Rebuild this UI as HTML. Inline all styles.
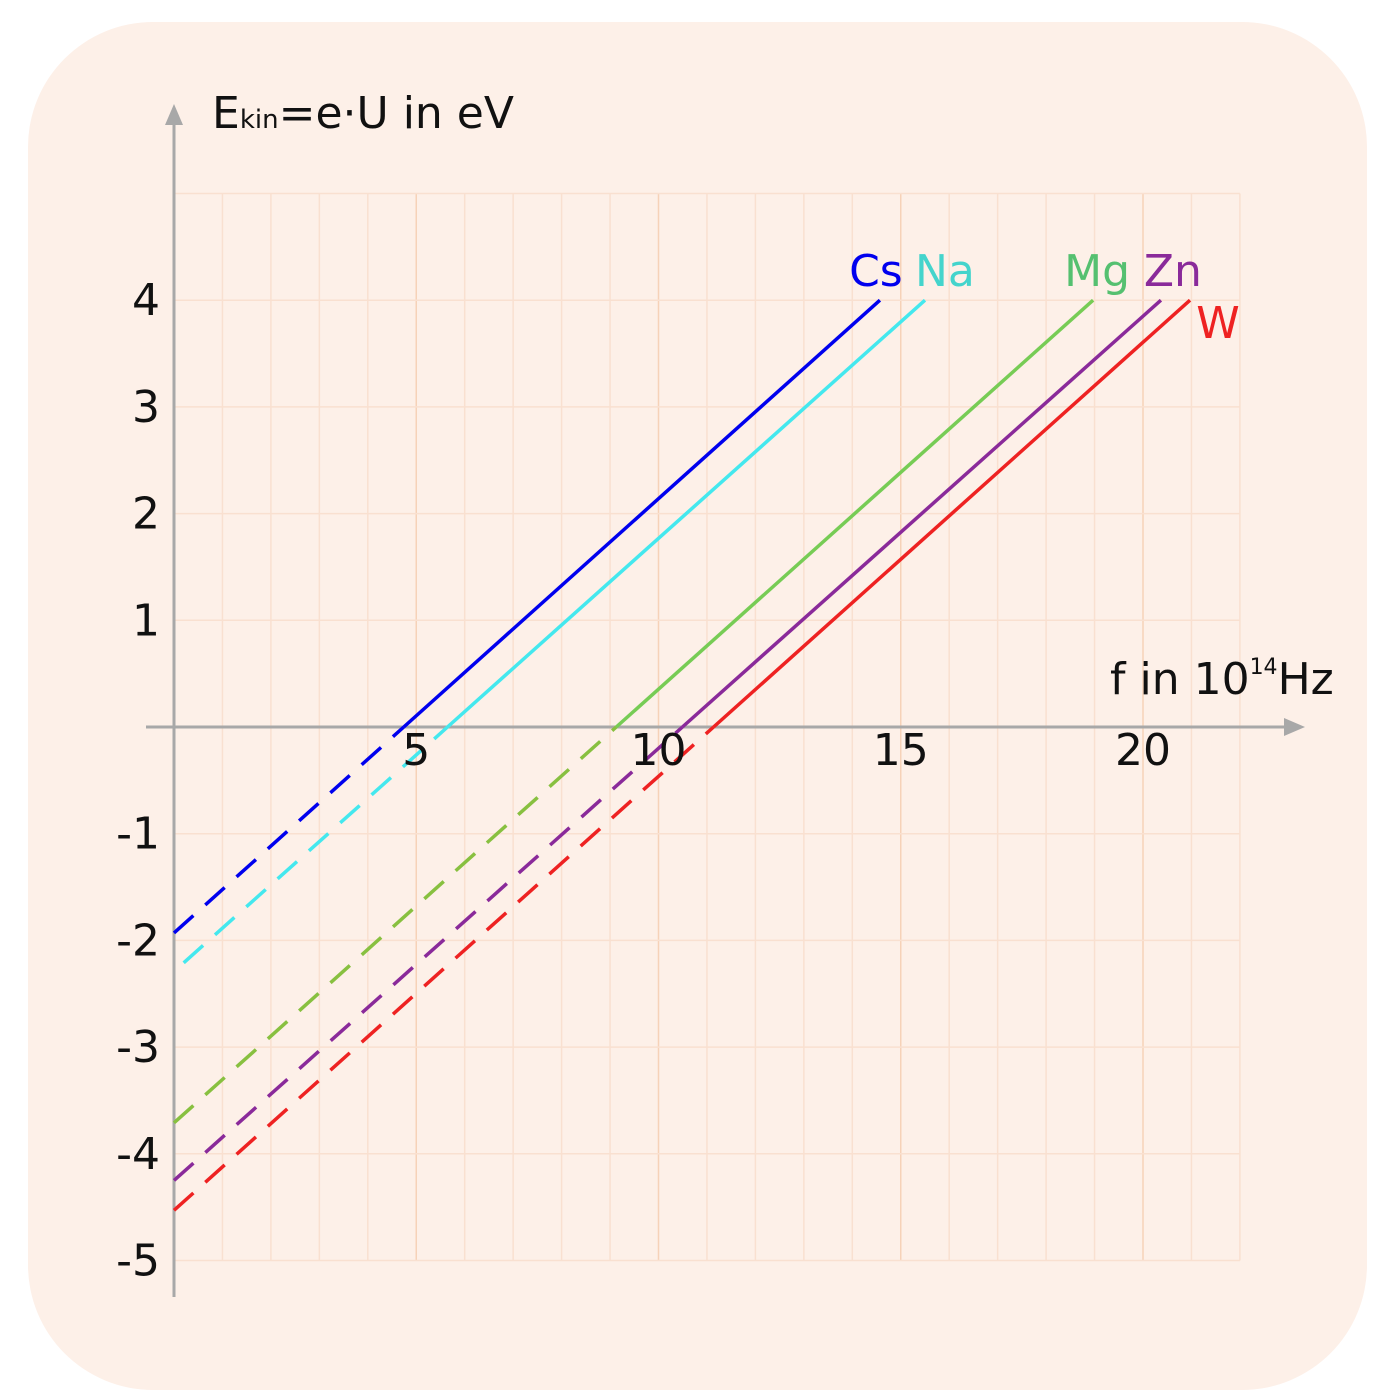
<!DOCTYPE html>
<html><head><meta charset="utf-8"><style>
body{margin:0;background:#fff;}
svg{display:block;font-family:"DejaVu Sans","Liberation Sans",sans-serif;}
</style></head><body>
<svg id="chart" width="1400" height="1400" viewBox="0 0 1400 1400" xmlns="http://www.w3.org/2000/svg">
<rect x="28" y="22" width="1339" height="1368" rx="125" fill="#fdf0e8"/>
<g id="grid"></g>
<g id="axes"></g>
<g id="series"></g>
<g id="labels"></g>
</svg>
<script>
const xTicks=[5,10,15,20];
const yTicks=[4,3,2,1,-1,-2,-3,-4,-5];
const seriesNames=["Cs","Na","Mg","Zn","W"];
const seriesStartF=[0,0.2,0,0,0];
const seriesStartE=[-1.93,-2.21,-3.71,-4.25,-4.53];
const seriesEndF=[14.57,15.5,18.97,20.37,20.97];
const seriesEndE=[4,4,4,4,4];
const colors=["#0000ee","#44e8ee","#77cc55","#8a2a9a","#ee2222"];
const dashColors=["#0000ee","#44e8ee","#88c040","#8a2a9a","#ee2222"];
const labelColors=["#0000ee","#44d4cc","#55c070","#8a2a9a","#ee2222"];
const labelDx=[-4,20,4,12,28];
const labelDy=[-14,-14,-14,-14,38];
const NS="http://www.w3.org/2000/svg";
const X=f=>174+f*48.45, Y=e=>727-e*106.7;
function mk(tag,attrs,parent){const el=document.createElementNS(NS,tag);for(const k in attrs)el.setAttribute(k,attrs[k]);document.getElementById(parent).appendChild(el);return el;}
for(let f=1;f<=22;f++){const l=mk('line',{x1:X(f),x2:X(f),y1:Y(5),y2:Y(-5),stroke:f%5==0?'#f6d2b8':'#f9e0d0','stroke-width':1.5},'grid');

}
for(let e=-5;e<=5;e++){if(e==0)continue;const l=mk('line',{x1:X(0),x2:X(22),y1:Y(e),y2:Y(e),stroke:'#f9e0d0','stroke-width':1.5},'grid');

}
let a=mk('line',{x1:146,x2:1290,y1:Y(0),y2:Y(0),stroke:'#a8a8a8','stroke-width':3},'axes');


a=mk('polygon',{points:`1305,${Y(0)} 1284,${Y(0)-9} 1284,${Y(0)+9}`,fill:'#a8a8a8'},'axes');


a=mk('line',{x1:174,x2:174,y1:1297,y2:120,stroke:'#a8a8a8','stroke-width':3},'axes');


a=mk('polygon',{points:`174,104 165,125 183,125`,fill:'#a8a8a8'},'axes');


xTicks.forEach(v=>{const t=mk('text',{x:X(v),y:765,'font-size':44,'text-anchor':'middle',fill:'#111'},'labels');t.textContent=v;

});
yTicks.forEach(v=>{const t=mk('text',{x:160,y:Y(v)+15,'font-size':44,'text-anchor':'end',fill:'#111'},'labels');t.textContent=v;

});
seriesNames.forEach((n,i)=>{
 const f0=seriesStartF[i],e0=seriesStartE[i],f1=seriesEndF[i],e1=seriesEndE[i];
 const fz=f0+(0-e0)*(f1-f0)/(e1-e0);
 let d=mk('line',{x1:X(f0),y1:Y(e0),x2:X(fz),y2:Y(0),stroke:dashColors[i],'stroke-width':3.5,'stroke-dasharray':'26 16'},'series');
 
 
 let s=mk('line',{x1:X(fz),y1:Y(0),x2:X(f1),y2:Y(e1),stroke:colors[i],'stroke-width':3.5},'series');
 
 
 const t=mk('text',{x:X(f1)+labelDx[i],y:Y(e1)+labelDy[i],'font-size':44,'text-anchor':'middle',fill:labelColors[i]},'labels');t.textContent=n;
 
 
});
</script>
<div style="position:absolute;left:212px;top:88px;font:44px 'DejaVu Sans','Liberation Sans',sans-serif;color:#111">E<span style="font-size:26px">kin</span>=e·U in eV</div>
<div style="position:absolute;left:1110px;top:654px;font:44px 'DejaVu Sans','Liberation Sans',sans-serif;color:#111">f in 10<sup style="font-size:22px;vertical-align:20px">14</sup>Hz</div>
</body></html>
